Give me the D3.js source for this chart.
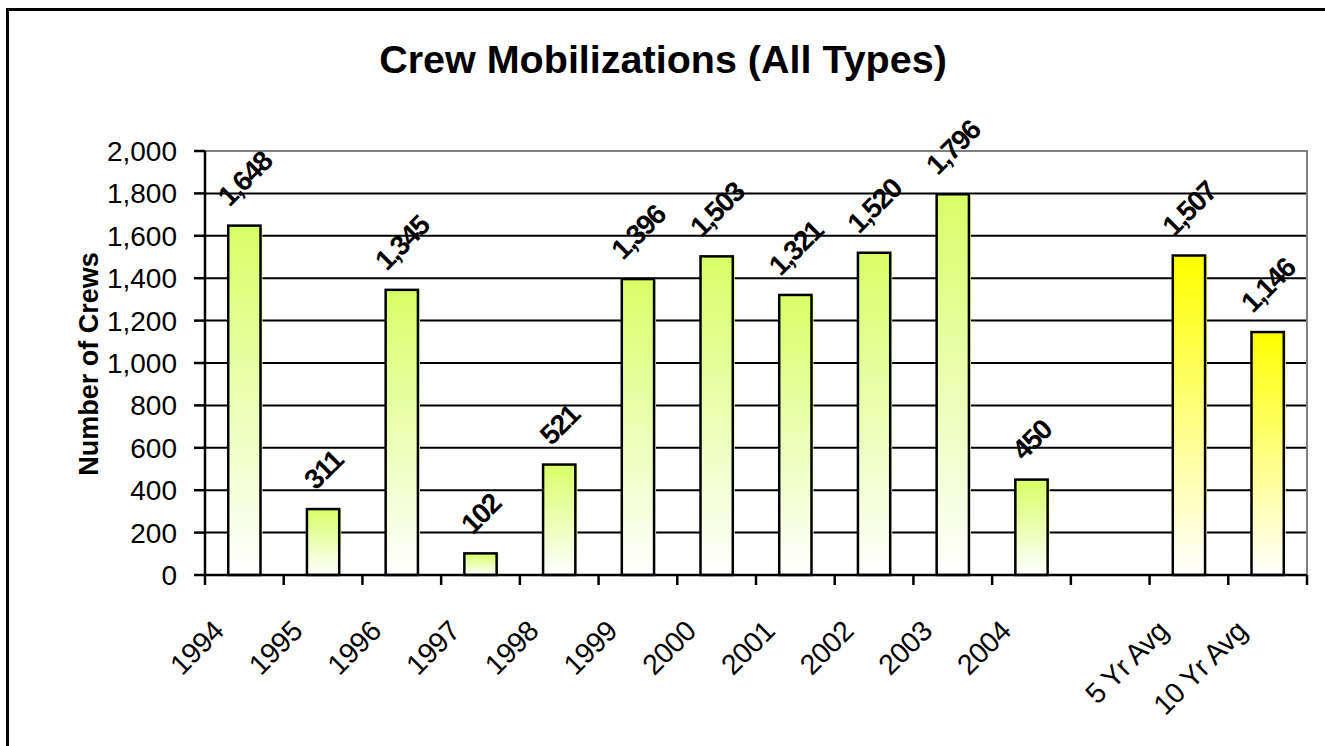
<!DOCTYPE html>
<html>
<head>
<meta charset="utf-8">
<script src="https://cdn.jsdelivr.net/npm/d3@7"></script>
<style>
  html, body { margin: 0; padding: 0; background: #fff; }
  svg { display: block; font-family: "Liberation Sans", Arial, sans-serif; }
</style>
</head>
<body>
<svg id="chart"></svg>
<script>
const width = 1325, height = 746;

// data
const categories = ['1994', '1995', '1996', '1997', '1998', '1999', '2000',
  '2001', '2002', '2003', '2004', '', '5 Yr Avg', '10 Yr Avg'];
const values = [1648, 311, 1345, 102, 521, 1396, 1503, 1321, 1520, 1796, 450, null, 1507, 1146];
const kinds = ['year', 'year', 'year', 'year', 'year', 'year', 'year',
  'year', 'year', 'year', 'year', 'none', 'avg', 'avg'];
const yTicks = [0, 200, 400, 600, 800, 1000, 1200, 1400, 1600, 1800, 2000];

const plot = { left: 205, right: 1307, top: 151, bottom: 575 };

const svg = d3.select('#chart')
  .attr('width', width)
  .attr('height', height);

// outer chart border (runs past right/bottom edge)
svg.append('rect')
  .attr('x', 7.5).attr('y', 9.5)
  .attr('width', width + 20).attr('height', height + 20)
  .attr('fill', 'none')
  .attr('stroke', '#000')
  .attr('stroke-width', 3);

// gradients
const defs = svg.append('defs');
const grads = { year: '#d8ff66', avg: '#ffff00' };
Object.entries(grads).forEach(([k, c]) => {
  const g = defs.append('linearGradient')
    .attr('id', `grad-${k}`)
    .attr('x1', 0).attr('y1', 0).attr('x2', 0).attr('y2', 1);
  g.append('stop').attr('offset', '0%').attr('stop-color', c);
  g.append('stop').attr('offset', '100%').attr('stop-color', '#fff');
});

const x = d3.scaleBand()
  .domain(d3.range(categories.length))
  .range([plot.left, plot.right])
  .padding(0);

const y = d3.scaleLinear()
  .domain([0, 2000])
  .range([plot.bottom, plot.top]);

// gridlines
svg.append('g')
  .selectAll('line')
  .data(yTicks.filter(d => d > 0 && d < 2000))
  .enter()
  .append('line')
  .attr('x1', plot.left).attr('x2', plot.right)
  .attr('y1', d => y(d)).attr('y2', d => y(d))
  .attr('stroke', '#000')
  .attr('stroke-width', 2);

// plot border top/right (grey)
svg.append('path')
  .attr('d', `M${plot.left},${plot.top} H${plot.right} V${plot.bottom}`)
  .attr('fill', 'none')
  .attr('stroke', '#808080')
  .attr('stroke-width', 2);

// bars
const barW = x.bandwidth() * 0.41;
const bars = svg.append('g')
  .selectAll('g')
  .data(values.map((v, i) => ({ v, i, kind: kinds[i] })).filter(d => d.v !== null))
  .enter()
  .append('g');

// slight fill offset to the right, like the original
bars.append('rect')
  .attr('x', d => x(d.i) + (x.bandwidth() - barW) / 2 + 2)
  .attr('y', d => y(d.v))
  .attr('width', barW)
  .attr('height', d => y(0) - y(d.v))
  .attr('fill', d => `url(#grad-${d.kind})`);

bars.append('rect')
  .attr('x', d => x(d.i) + (x.bandwidth() - barW) / 2)
  .attr('y', d => y(d.v))
  .attr('width', barW)
  .attr('height', d => y(0) - y(d.v))
  .attr('fill', d => `url(#grad-${d.kind})`)
  .attr('stroke', '#000')
  .attr('stroke-width', 2.5);

// y axis
const yAxis = svg.append('g');
yAxis.append('line')
  .attr('x1', plot.left).attr('x2', plot.left)
  .attr('y1', plot.top).attr('y2', plot.bottom)
  .attr('stroke', '#000').attr('stroke-width', 2.5);
yAxis.selectAll('.tick')
  .data(yTicks)
  .enter()
  .append('line')
  .attr('x1', plot.left - 11).attr('x2', plot.left)
  .attr('y1', d => y(d)).attr('y2', d => y(d))
  .attr('stroke', '#000').attr('stroke-width', 2.5);
yAxis.selectAll('text')
  .data(yTicks)
  .enter()
  .append('text')
  .attr('x', plot.left - 28)
  .attr('y', d => y(d))
  .attr('dy', '0.36em')
  .attr('text-anchor', 'end')
  .attr('font-size', 28)
  .text(d => d3.format(',')(d));

// x axis
const xAxis = svg.append('g');
xAxis.append('line')
  .attr('x1', plot.left).attr('x2', plot.right)
  .attr('y1', plot.bottom).attr('y2', plot.bottom)
  .attr('stroke', '#000').attr('stroke-width', 2.5);
xAxis.selectAll('.tick')
  .data(d3.range(categories.length + 1))
  .enter()
  .append('line')
  .attr('x1', i => plot.left + i * x.bandwidth())
  .attr('x2', i => plot.left + i * x.bandwidth())
  .attr('y1', plot.bottom).attr('y2', plot.bottom + 10)
  .attr('stroke', '#000').attr('stroke-width', 2.5);
xAxis.selectAll('text')
  .data(categories.map((c, i) => ({ c, i })).filter(d => d.c !== ''))
  .enter()
  .append('text')
  .attr('transform', d => `translate(${x(d.i) + x.bandwidth() / 2 - 19},${plot.bottom + 58}) rotate(-45)`)
  .attr('text-anchor', 'end')
  .attr('font-size', 28.5)
  .attr('letter-spacing', -0.5)
  .text(d => d.c);

// value labels, rotated
const labelSize = 28;
const labels = svg.append('g')
  .selectAll('text')
  .data(values.map((v, i) => ({ v, i })).filter(d => d.v !== null))
  .enter()
  .append('text')
  .attr('text-anchor', 'middle')
  .attr('font-size', labelSize)
  .attr('font-weight', 'bold')
  .attr('letter-spacing', -1.5)
  .attr('dy', '0.36em')
  .text(d => d3.format(',')(d.v));

labels.attr('transform', function (d) {
  const w = this.getComputedTextLength();
  const half = (w + labelSize * 0.72) * 0.7071 / 2;
  const cx = x(d.i) + x.bandwidth() / 2;
  const cy = y(d.v) - 18 - half;
  return `translate(${cx},${cy}) rotate(-45)`;
});

// title
svg.append('text')
  .attr('x', 663)
  .attr('y', 73)
  .attr('text-anchor', 'middle')
  .attr('font-size', 39.5)
  .attr('font-weight', 'bold')
  .text('Crew Mobilizations (All Types)');

// y axis title
svg.append('text')
  .attr('transform', `translate(98,364) rotate(-90)`)
  .attr('text-anchor', 'middle')
  .attr('font-size', 27)
  .attr('font-weight', 'bold')
  .text('Number of Crews');
</script>
</body>
</html>
